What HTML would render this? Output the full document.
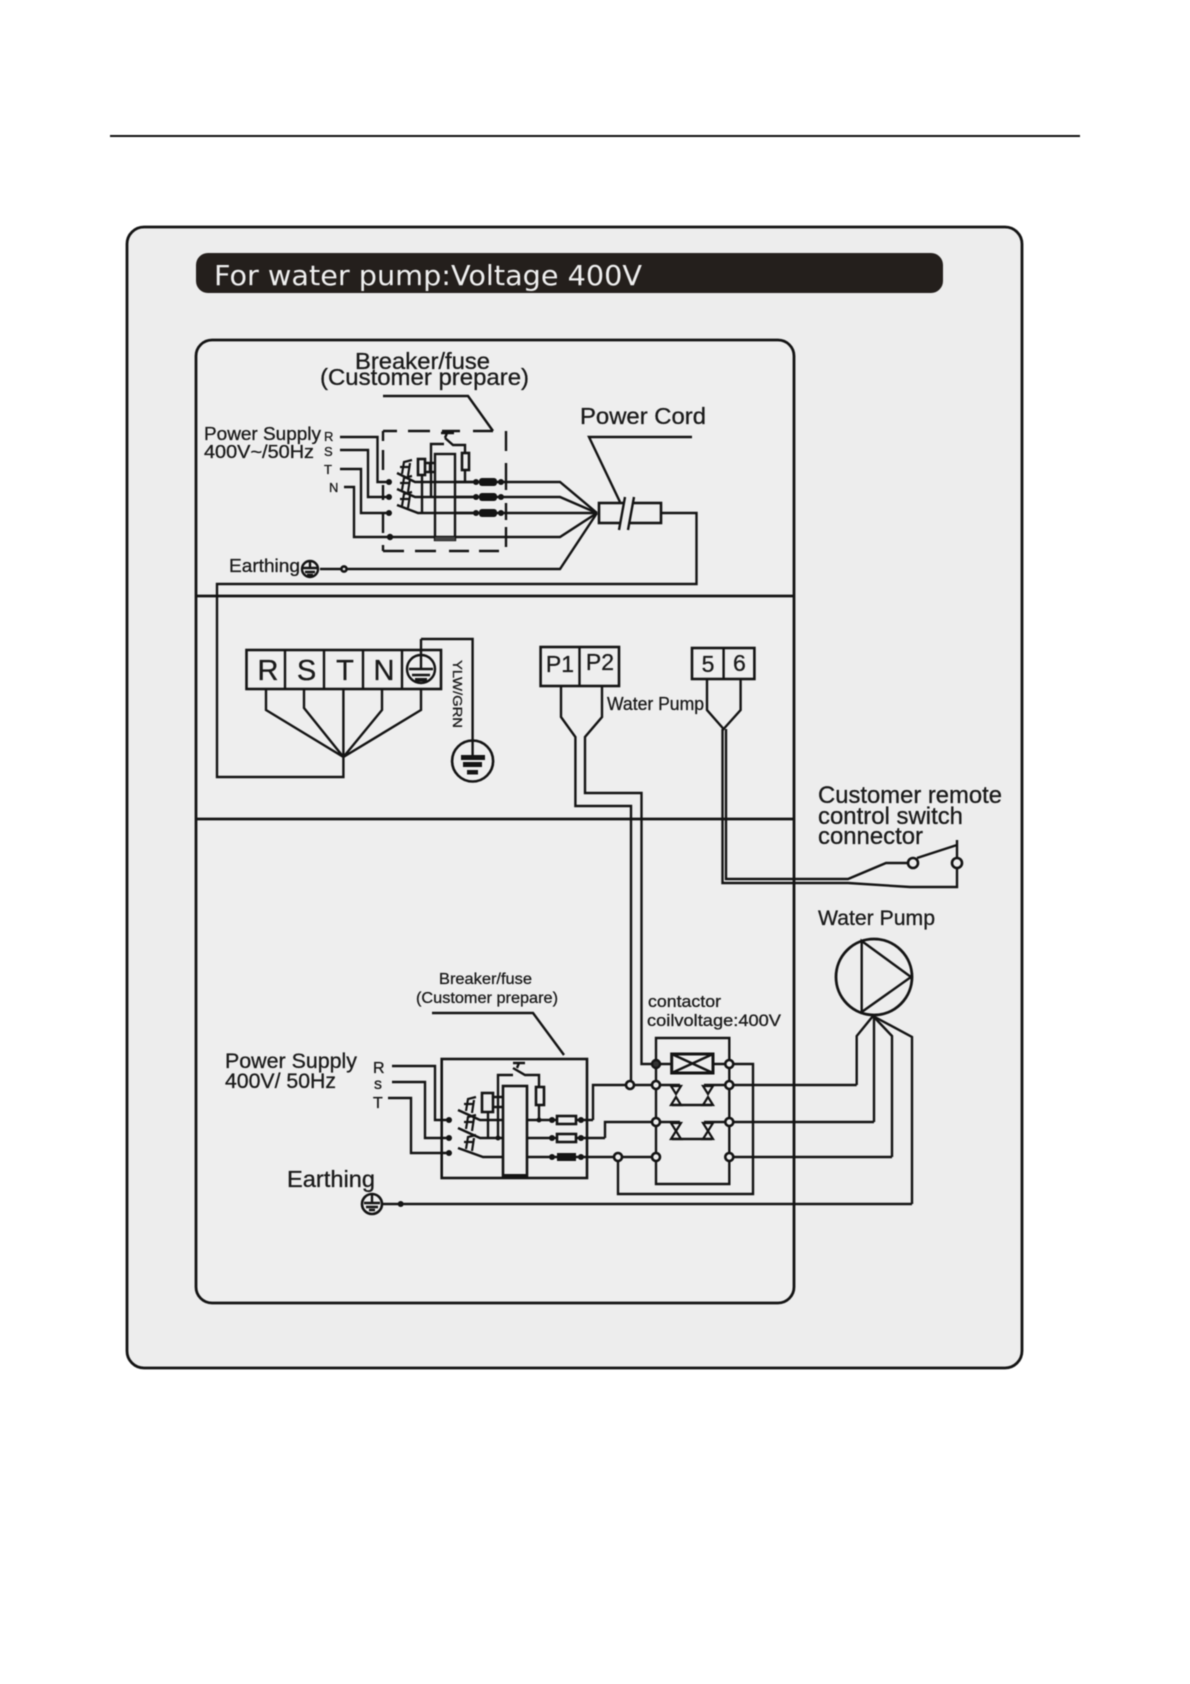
<!DOCTYPE html>
<html>
<head>
<meta charset="utf-8">
<style>
html,body{margin:0;padding:0;background:#fff;}
svg{display:block;filter:blur(0.55px);}
text{font-family:"Liberation Sans",sans-serif;fill:#1a1a1a;stroke:#1a1a1a;stroke-width:.3px;}
.w{fill:none;stroke:#141414;stroke-width:2.4;stroke-linejoin:miter;}
.p{fill:none;stroke:#141414;stroke-width:2.8;}
.d{fill:#ededed;stroke:#141414;stroke-width:2.6;}
.f{fill:#141414;}
</style>
</head>
<body>
<svg width="1190" height="1684" viewBox="0 0 1190 1684" xmlns="http://www.w3.org/2000/svg">
<defs>
<g id="sw" fill="none" stroke="#141414" stroke-width="2.2">
  <path d="M8,4 L10,-8 L18,-10 M14,6 L16,-7 M6,-3 L15,-3"/>
</g>
<g id="cu" fill="none" stroke="#141414" stroke-width="2.2">
  <path d="M-5,0 L5,0 L0,8 Z"/>
</g>
<g id="cd" fill="none" stroke="#141414" stroke-width="2.2">
  <path d="M-5,0 L5,0 L0,-8 Z"/>
</g>
</defs>

<rect width="1190" height="1684" fill="#fff"/>
<line x1="110" y1="136" x2="1080" y2="136" stroke="#111" stroke-width="2"/>

<!-- panels -->
<rect x="127" y="227" width="895" height="1141" rx="17" fill="#ededed" stroke="#141414" stroke-width="2.8"/>
<rect x="196" y="253" width="747" height="40" rx="12" fill="#241f1c"/>
<text x="214" y="285" font-size="28" textLength="428" lengthAdjust="spacingAndGlyphs" style="font-family:'DejaVu Sans',sans-serif;fill:#efefef;stroke:none">For water pump:Voltage 400V</text>
<rect x="196" y="340" width="598" height="963" rx="16" fill="#eeeeee" stroke="#141414" stroke-width="2.8"/>
<line x1="196" y1="596" x2="794" y2="596" class="p"/>
<line x1="196" y1="819" x2="794" y2="819" class="p"/>

<!-- top section labels -->
<text x="355" y="369" font-size="23" textLength="135" lengthAdjust="spacingAndGlyphs">Breaker/fuse</text>
<text x="320" y="385" font-size="23" textLength="209" lengthAdjust="spacingAndGlyphs">(Customer prepare)</text>
<text x="580" y="424" font-size="23" textLength="126" lengthAdjust="spacingAndGlyphs">Power Cord</text>
<text x="204" y="440" font-size="18" textLength="117" lengthAdjust="spacingAndGlyphs">Power Supply</text>
<text x="204" y="458" font-size="18" textLength="110" lengthAdjust="spacingAndGlyphs">400V~/50Hz</text>
<text x="324" y="441" font-size="13">R</text>
<text x="324" y="456" font-size="13">S</text>
<text x="324" y="474" font-size="13">T</text>
<text x="329" y="492" font-size="13">N</text>
<text x="229" y="572" font-size="18" textLength="71" lengthAdjust="spacingAndGlyphs">Earthing</text>

<!-- top leaders -->
<path class="w" d="M383,396 H468 L493,431"/>
<path class="w" d="M692,437 H589 L620,502"/>

<!-- dashed box -->
<path class="w" d="M383,431 H397 M408,431 H430 M442,431 H460 M473,431 H493 M506,431 V451 M506,463 V490 M506,503 V520 M506,527 V547 M383,551 H404 M415,551 H436 M449,551 H469 M479,551 H499 M383,431 V441 M383,450 V470 M383,485 V500 M383,514 V533 M383,545 V551"/>

<!-- input lines -->
<path class="w" d="M340,437 H377.5 V482 H389"/>
<path class="w" d="M340,450 H368 V497 H389"/>
<path class="w" d="M340,469 H361 V513 H389"/>
<path class="w" d="M344,487 H354 V537 H560 L597,513"/>
<circle cx="389" cy="482" r="3" class="f"/><circle cx="389" cy="497" r="3" class="f"/><circle cx="389" cy="513" r="3" class="f"/><circle cx="390" cy="537" r="3.2" class="f"/>

<!-- switches -->
<path class="w" d="M397,473 L415,482 H476 M397,489 L415,497 H476 M397,505 L418,513 H476"/>
<use href="#sw" x="394" y="470"/><use href="#sw" x="394" y="486"/><use href="#sw" x="394" y="502"/>

<!-- breaker internals -->
<rect x="435" y="454" width="20" height="86" fill="none" stroke="#141414" stroke-width="2.4"/>
<rect x="435" y="537" width="20" height="3.5" fill="#444"/>
<path class="w" d="M431,497 V444 H444 M445,438 L453,445 H465 V482"/>
<path class="w" d="M441,433 H454 M447,433 L445,438"/>
<rect x="462" y="453" width="7" height="17" class="d"/>
<rect x="418" y="459" width="7" height="16" class="d"/>
<path class="w" d="M422,475 V513 M425,463 H435 M425,472 H435 M430,463 V472"/>

<!-- fuses and outputs -->
<path class="w" d="M455,482 H501 H560 L597,513"/>
<path class="w" d="M455,497 H501 H560 L597,513"/>
<path class="w" d="M455,513 H597"/>
<rect x="479" y="478" width="18" height="8" rx="3" class="f"/><rect x="479" y="493" width="18" height="8" rx="3" class="f"/><rect x="479" y="509" width="18" height="8" rx="3" class="f"/>
<circle cx="476" cy="482" r="3" class="f"/><circle cx="476" cy="497" r="3" class="f"/><circle cx="476" cy="513" r="3" class="f"/>
<circle cx="501" cy="482" r="3" class="f"/><circle cx="501" cy="497" r="3" class="f"/><circle cx="501" cy="513" r="3" class="f"/>

<!-- earth line top -->
<path class="w" d="M320,569 H560 L597,513"/>
<circle cx="310" cy="569" r="8" fill="none" stroke="#141414" stroke-width="2.4"/>
<path class="w" d="M310,561 V568 M303,568 H317 M305,572 H315 M307,575 H313"/>
<circle cx="344" cy="569" r="2.6" class="d"/>

<!-- power cord -->
<rect x="599" y="503" width="62" height="20" fill="none" stroke="#141414" stroke-width="2.6"/>
<path d="M625,497 L619,530 H628 L634,497 Z" fill="#ededed"/>
<path class="w" d="M625,497 L619,530 M634,497 L628,530"/>
<path class="w" d="M661,513 H696.5 V584 H217 V777 H343.4 V757"/>

<!-- terminal block -->
<rect x="246.5" y="650" width="194.5" height="39" fill="none" stroke="#141414" stroke-width="2.6"/>
<path class="w" d="M285,650 V689 M324,650 V689 M363,650 V689 M402,650 V689"/>
<text x="268" y="680" font-size="29" text-anchor="middle">R</text>
<text x="306.5" y="680" font-size="29" text-anchor="middle">S</text>
<text x="345" y="680" font-size="29" text-anchor="middle">T</text>
<text x="384" y="680" font-size="29" text-anchor="middle">N</text>
<circle cx="421" cy="669" r="14" fill="none" stroke="#141414" stroke-width="2.4"/>
<path class="w" d="M421,639 V669 M409,669 H433 M412,675 H430"/>
<rect x="415" y="678" width="12" height="3.5" class="f"/>
<path class="w" d="M421,639 H472.6 V757"/>
<circle cx="472.6" cy="761" r="20.5" fill="none" stroke="#141414" stroke-width="2.6"/>
<rect x="461" y="755" width="24" height="5" class="f"/>
<rect x="463" y="762" width="19" height="5" class="f"/>
<rect x="467" y="770" width="11" height="4.5" class="f"/>
<text transform="translate(453,660) rotate(90)" font-size="13" textLength="68" lengthAdjust="spacingAndGlyphs">YLW/GRN</text>

<path class="w" d="M266,689 V710 L343.4,757 M304,689 V708 L343.4,757 M343.4,689 V757 M382,689 V710 L343.4,757 M421,689 V710 L343.4,757"/>

<!-- P1 P2 -->
<rect x="540.6" y="647" width="78.4" height="39" fill="none" stroke="#141414" stroke-width="2.6"/>
<line x1="579.5" y1="647" x2="579.5" y2="686" class="w"/>
<text x="560" y="672" font-size="23" text-anchor="middle">P1</text>
<text x="600" y="670" font-size="23" text-anchor="middle">P2</text>
<path class="w" d="M561,686 V717 L575.4,737 V806 H631 V1085"/>
<path class="w" d="M602,686 V717 L585,737 V793 H641.5 V1064 H656"/>
<text x="607" y="710" font-size="18" textLength="97" lengthAdjust="spacingAndGlyphs">Water Pump</text>

<!-- 5 6 -->
<rect x="692" y="648" width="62.4" height="31" fill="none" stroke="#141414" stroke-width="2.6"/>
<line x1="723.6" y1="648" x2="723.6" y2="679" class="w"/>
<text x="708" y="672" font-size="23" text-anchor="middle">5</text>
<text x="739.4" y="671" font-size="23" text-anchor="middle">6</text>
<path class="w" d="M707,679 V710 L723.6,729 L740.6,710 V679"/>
<path class="w" d="M722.5,729 V883 H848 L910,887 H957 V840"/>
<path class="w" d="M726,729 V879 H848 L886,863 H908 M917,858 L957,845"/>
<circle cx="913" cy="863" r="5" class="d"/>
<circle cx="957" cy="863" r="5" class="d"/>

<!-- right labels -->
<text x="818" y="803" font-size="24" textLength="184" lengthAdjust="spacingAndGlyphs">Customer remote</text>
<text x="818" y="824" font-size="24" textLength="145" lengthAdjust="spacingAndGlyphs">control switch</text>
<text x="818" y="844" font-size="24" textLength="105" lengthAdjust="spacingAndGlyphs">connector</text>
<text x="818" y="925" font-size="21" textLength="117" lengthAdjust="spacingAndGlyphs">Water Pump</text>

<!-- pump -->
<circle cx="874" cy="977" r="38" fill="none" stroke="#141414" stroke-width="2.8"/>
<path class="w" d="M861.7,941 L911,977 L861.7,1012 Z"/>
<path class="w" d="M856.7,1085 V1036 L873,1016 L892,1036 V1157"/>
<path class="w" d="M874,1016 V1122"/>
<path class="w" d="M873,1016 L912,1037 V1204"/>

<!-- contactor labels -->
<text x="648" y="1007" font-size="17" textLength="73" lengthAdjust="spacingAndGlyphs">contactor</text>
<text x="647" y="1026" font-size="17" textLength="134" lengthAdjust="spacingAndGlyphs">coilvoltage:400V</text>

<!-- contactor -->
<path class="w" d="M656,1064 V1038 H729.3 V1184 H656 V1064"/>
<rect x="671.7" y="1054" width="41.3" height="19" fill="none" stroke="#141414" stroke-width="3"/>
<path class="w" d="M671.7,1054 L713,1073 M671.7,1073 L713,1054"/>
<path class="w" d="M656,1064 H671.7 M713,1064 H753 V1194 H618 V1157"/>
<path class="w" d="M593,1120 V1085 H680 M704,1085 H856.7"/>
<path class="w" d="M605,1138 V1122 H680 M704,1122 H874"/>
<path class="w" d="M581,1157 H656 M729,1157 H892"/>
<path class="w" d="M581,1120 H593 M581,1138 H605"/>
<use href="#cu" x="676" y="1086"/><use href="#cu" x="708" y="1086"/>
<use href="#cd" x="676" y="1105"/><use href="#cd" x="708" y="1105"/>
<path class="w" d="M672,1105 H712"/>
<use href="#cu" x="676" y="1123"/><use href="#cu" x="708" y="1123"/>
<use href="#cd" x="676" y="1139"/><use href="#cd" x="708" y="1139"/>
<path class="w" d="M672,1139 H712"/>
<circle cx="656" cy="1064" r="4" fill="#333" stroke="#141414" stroke-width="2.4"/>
<circle cx="729.3" cy="1064" r="4" class="d"/>
<circle cx="656" cy="1085" r="4" class="d"/><circle cx="729.3" cy="1085" r="4" class="d"/>
<circle cx="656" cy="1122" r="4" class="d"/><circle cx="729.3" cy="1122" r="4" class="d"/>
<circle cx="656" cy="1157" r="4" class="d"/><circle cx="729.3" cy="1157" r="4" class="d"/>
<circle cx="630" cy="1085" r="4" class="d"/>
<circle cx="618" cy="1157" r="4" class="d"/>

<!-- lower labels -->
<text x="439" y="984" font-size="16" textLength="93" lengthAdjust="spacingAndGlyphs">Breaker/fuse</text>
<text x="416" y="1003" font-size="16" textLength="142" lengthAdjust="spacingAndGlyphs">(Customer prepare)</text>
<text x="225" y="1068" font-size="21" textLength="132" lengthAdjust="spacingAndGlyphs">Power Supply</text>
<text x="225" y="1088" font-size="21" textLength="111" lengthAdjust="spacingAndGlyphs">400V/ 50Hz</text>
<text x="373" y="1073" font-size="16">R</text>
<text x="374" y="1089" font-size="16">s</text>
<text x="373" y="1108" font-size="16">T</text>
<text x="287" y="1187" font-size="23" textLength="88" lengthAdjust="spacingAndGlyphs">Earthing</text>

<!-- lower breaker -->
<path class="w" d="M432,1013 H533 L564,1055"/>
<rect x="441.7" y="1059" width="145.3" height="119" fill="none" stroke="#141414" stroke-width="2.6"/>
<path class="w" d="M392,1066 H435 V1120 H449"/>
<path class="w" d="M392,1082 H425 V1138 H449"/>
<path class="w" d="M388,1098 H411 V1153 H449"/>
<circle cx="449" cy="1120" r="3" class="f"/><circle cx="449" cy="1138" r="3" class="f"/><circle cx="449" cy="1153" r="3" class="f"/>
<path class="w" d="M458,1110 L480,1120 H503 M458,1128 L480,1138 H503 M458,1148 L483,1157 H503"/>
<use href="#sw" x="458" y="1107"/><use href="#sw" x="458" y="1125"/><use href="#sw" x="458" y="1145"/>
<rect x="503" y="1086" width="24" height="91" fill="#eeeeee" stroke="#141414" stroke-width="2.6"/>
<rect x="503" y="1174" width="24" height="4" class="f"/>
<rect x="482" y="1093" width="11" height="19" class="d"/>
<path class="w" d="M488,1112 V1138 M493,1097 H503 M493,1107 H503 M498,1138 V1075 H513 M513,1068 L525,1075 H539 V1120"/>
<path class="w" d="M513,1063 H525 M519,1063 L517,1068"/>
<circle cx="498" cy="1138" r="2.5" class="f"/>
<rect x="536" y="1087" width="8" height="18" class="d"/>
<circle cx="539" cy="1120" r="2.5" class="f"/>
<path class="w" d="M527,1120 H581 M527,1138 H581 M527,1157 H581"/>
<rect x="557" y="1116" width="19" height="8" class="d"/>
<rect x="557" y="1134" width="19" height="8" class="d"/>
<rect x="557" y="1153" width="19" height="8" class="f"/>
<circle cx="552" cy="1120" r="3" class="f"/><circle cx="552" cy="1138" r="3" class="f"/><circle cx="552" cy="1157" r="3" class="f"/>
<circle cx="581" cy="1120" r="3" class="f"/><circle cx="581" cy="1138" r="3" class="f"/><circle cx="581" cy="1157" r="3" class="f"/>

<!-- lower earth -->
<path class="w" d="M383,1204 H912"/>
<circle cx="372" cy="1204" r="10" fill="none" stroke="#141414" stroke-width="2.6"/>
<path class="w" d="M372,1195 V1203 M364,1203 H380 M366,1207 H378 M369,1210 H375"/>
<circle cx="400.7" cy="1204" r="3" class="f"/>
</svg>
</body>
</html>
